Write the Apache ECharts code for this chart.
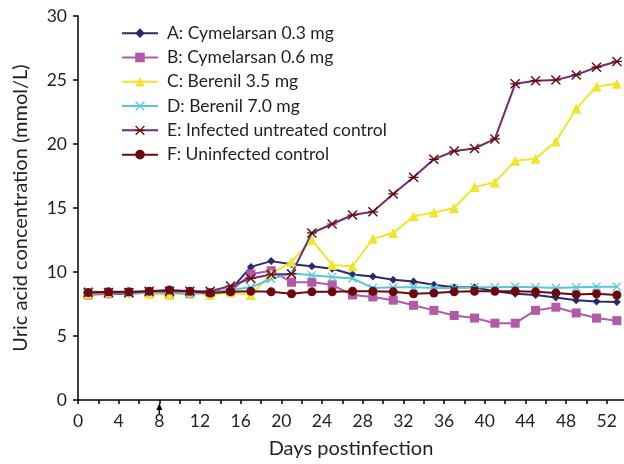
<!DOCTYPE html>
<html>
<head>
<meta charset="utf-8">
<script src="https://cdn.jsdelivr.net/npm/echarts@6/dist/echarts.min.js"></script>
<style>
  html, body { margin: 0; padding: 0; background: #fff; }
  #chart { width: 624px; height: 464px; }
</style>
</head>
<body>
<div id="chart"></div>
<script>
// days postinfection (odd days)
var days = [1, 3, 5, 7, 9, 11, 13, 15, 17, 19, 21, 23, 25, 27, 29, 31, 33, 35, 37, 39, 41, 43, 45, 47, 49, 51, 53];

var seriesNames = [
  "A: Cymelarsan 0.3 mg",
  "B: Cymelarsan 0.6 mg",
  "C: Berenil 3.5 mg",
  "D: Berenil 7.0 mg",
  "E: Infected untreated control",
  "F: Uninfected control"
];

var valuesA = [8.4, 8.3, 8.3, 8.4, 8.5, 8.4, 8.4, 8.6, 10.4, 10.85, 10.6, 10.45, 10.25, 9.8, 9.65, 9.4, 9.25, 9.0, 8.8, 8.8, 8.5, 8.3, 8.2, 8.0, 7.8, 7.7, 7.65];
var valuesB = [8.2, 8.3, 8.4, 8.4, 8.3, 8.3, 8.4, 8.5, 9.85, 10.1, 9.2, 9.2, 9.0, 8.2, 8.05, 7.8, 7.4, 7.0, 6.6, 6.4, 6.0, 6.0, 7.0, 7.25, 6.8, 6.4, 6.2];
var valuesC = [8.3, 8.4, 8.4, 8.3, 8.2, 8.4, 8.2, 8.4, 8.2, 9.85, 10.8, 12.5, 10.55, 10.45, 12.6, 13.05, 14.35, 14.65, 15.0, 16.65, 17.0, 18.7, 18.85, 20.2, 22.75, 24.5, 24.7];
var valuesD = [8.5, 8.4, 8.3, 8.4, 8.4, 8.3, 8.4, 8.6, 8.8, 9.45, 9.9, 9.75, 9.6, 9.5, 8.75, 8.8, 8.8, 8.75, 8.75, 8.8, 8.8, 8.85, 8.8, 8.75, 8.8, 8.85, 8.85];
var valuesE = [8.4, 8.4, 8.4, 8.5, 8.5, 8.5, 8.5, 8.9, 9.5, 9.8, 9.85, 13.05, 13.75, 14.45, 14.7, 16.1, 17.4, 18.8, 19.45, 19.65, 20.4, 24.7, 24.95, 25.0, 25.4, 26.0, 26.45];
var valuesF = [8.4, 8.45, 8.45, 8.5, 8.6, 8.5, 8.35, 8.45, 8.5, 8.45, 8.3, 8.45, 8.45, 8.5, 8.5, 8.45, 8.3, 8.35, 8.45, 8.5, 8.5, 8.5, 8.45, 8.35, 8.25, 8.3, 8.2];

var arrowDay = 8; // treatment day marker on x axis

var xMark = "path://M0,1L1,0L5,4L9,0L10,1L6,5L10,9L9,10L5,6L1,10L0,9L4,5Z";
var starMark = "path://M0,1L1,0L5,4L9,0L10,1L6,5L10,9L9,10L5,6L1,10L0,9L4,5Z M0,4.4L10,4.4L10,5.6L0,5.6Z";

function pairs(vals) {
  return days.map(function (d, i) { return [d, vals[i]]; });
}

function makeSeries(name, vals, lineColor, markColor, symbol, size) {
  return {
    name: name,
    type: "line",
    data: pairs(vals),
    symbol: symbol,
    symbolSize: size,
    showAllSymbol: true,
    animation: false,
    lineStyle: { color: lineColor, width: 2 },
    itemStyle: { color: markColor, borderWidth: 0 },
    emphasis: { disabled: true }
  };
}

var chart = echarts.init(document.getElementById("chart"));
var font = "Lato, 'Open Sans', sans-serif";

var option = {
  backgroundColor: "#fff",
  animation: false,
  grid: { left: 78, top: 16, right: 0, bottom: 62 },
  legend: {
    left: 116,
    top: 19,
    orient: "vertical",
    itemWidth: 36,
    itemHeight: 12,
    itemGap: 6,
    data: seriesNames,
    textStyle: { fontFamily: font, fontSize: 17.5, color: "#231f20", lineHeight: 18.3, padding: [0, 0, 0, 4] }
  },
  xAxis: {
    type: "value",
    min: 0,
    max: 53.7,
    interval: 2,
    name: "Days postinfection",
    nameLocation: "middle",
    nameGap: 39,
    nameTextStyle: { fontFamily: font, fontSize: 20, color: "#231f20" },
    splitLine: { show: false },
    axisLine: { lineStyle: { color: "#000", width: 1.5 } },
    axisTick: { show: true, length: 4, lineStyle: { color: "#000", width: 1.5 } },
    axisLabel: {
      fontFamily: font, fontSize: 17.5, color: "#231f20", margin: 12,
      showMaxLabel: false,
      formatter: function (v) { return v % 4 === 0 ? String(v) : ""; }
    }
  },
  yAxis: {
    type: "value",
    min: 0,
    max: 30,
    interval: 5,
    name: "Uric acid concentration (mmol/L)",
    nameLocation: "middle",
    nameGap: 47,
    nameTextStyle: { fontFamily: font, fontSize: 20, color: "#231f20" },
    splitLine: { show: false },
    axisLine: { show: true, lineStyle: { color: "#000", width: 1.5 } },
    axisTick: { show: true, length: 5, lineStyle: { color: "#000", width: 1.5 } },
    axisLabel: { fontFamily: font, fontSize: 17.5, color: "#231f20", margin: 11 }
  },
  series: [
    makeSeries(seriesNames[0], valuesA, "#2d2a6c", "#2d2a6c", "diamond", 8),
    makeSeries(seriesNames[1], valuesB, "#b05aa8", "#b05aa8", "rect", 9),
    makeSeries(seriesNames[2], valuesC, "#f0e52a", "#f0e52a", "triangle", 10),
    makeSeries(seriesNames[3], valuesD, "#5ac6dc", "#5ac6dc", xMark, 9),
    makeSeries(seriesNames[4], valuesE, "#6e2a7e", "#6b0a0e", starMark, 10),
    makeSeries(seriesNames[5], valuesF, "#6b0a0e", "#6b0a0e", "circle", 9)
  ]
};

chart.setOption(option);

// small arrow under the x axis at the treatment day
var p = chart.convertToPixel({ gridIndex: 0 }, [arrowDay, 0]);
chart.setOption({
  graphic: [
    {
      type: "polygon",
      shape: { points: [[p[0], p[1] + 3], [p[0] - 3, p[1] + 10], [p[0] + 3, p[1] + 10]] },
      style: { fill: "#000" }
    },
    {
      type: "line",
      shape: { x1: p[0], y1: p[1] + 8, x2: p[0], y2: p[1] + 15 },
      style: { stroke: "#000", lineWidth: 1.5 }
    }
  ]
});
</script>
</body>
</html>
